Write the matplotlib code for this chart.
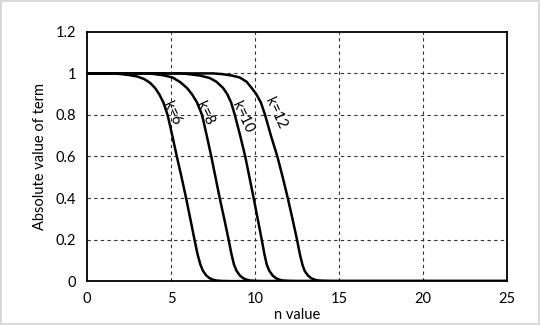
import matplotlib
matplotlib.use("Agg")
import matplotlib.pyplot as plt

plt.rcParams['font.family'] = ['Lato', 'DejaVu Sans']

# points (n, |term|)
n_k6 = [0, 1.5, 2.0, 2.5, 3.0, 3.4, 3.75, 4.05, 4.3, 4.55, 4.8, 5.08, 5.35, 5.63, 5.9, 6.15, 6.4, 6.58, 6.75, 6.9, 7.1, 7.3, 7.5, 7.7, 8.0, 8.5, 25]
y_k6 = [1, 1.0, 0.997, 0.992, 0.985, 0.973, 0.955, 0.93, 0.9, 0.86, 0.8, 0.7, 0.6, 0.5, 0.4, 0.3, 0.2, 0.13, 0.08, 0.05, 0.027, 0.014, 0.007, 0.003, 0.001, 0, 0]

n_k8 = [0, 3.5, 4.0, 4.6, 5.1, 5.55, 5.95, 6.25, 6.55, 6.85, 7.13, 7.4, 7.65, 7.9, 8.17, 8.43, 8.6, 8.75, 8.9, 9.1, 9.3, 9.5, 9.7, 10.0, 10.5, 25]
y_k8 = [1, 1.0, 0.997, 0.99, 0.98, 0.958, 0.93, 0.9, 0.86, 0.8, 0.7, 0.6, 0.5, 0.4, 0.3, 0.2, 0.13, 0.08, 0.05, 0.027, 0.014, 0.007, 0.003, 0.001, 0, 0]

n_k10 = [0, 5.5, 6.0, 6.7, 7.3, 7.7, 8.1, 8.35, 8.58, 8.8, 9.12, 9.42, 9.67, 9.92, 10.16, 10.4, 10.56, 10.7, 10.85, 11.05, 11.25, 11.45, 11.65, 12.0, 12.5, 25]
y_k10 = [1, 1.0, 0.997, 0.99, 0.978, 0.96, 0.93, 0.9, 0.86, 0.8, 0.7, 0.6, 0.5, 0.4, 0.3, 0.2, 0.13, 0.08, 0.05, 0.027, 0.014, 0.007, 0.003, 0.001, 0, 0]

n_k12 = [0, 7.5, 8.0, 8.6, 9.1, 9.5, 9.8, 10.08, 10.35, 10.6, 10.95, 11.33, 11.65, 11.95, 12.23, 12.5, 12.67, 12.82, 12.95, 13.15, 13.35, 13.55, 13.75, 14.1, 14.6, 25]
y_k12 = [1, 1.0, 0.997, 0.99, 0.98, 0.96, 0.93, 0.9, 0.86, 0.8, 0.7, 0.6, 0.5, 0.4, 0.3, 0.2, 0.13, 0.08, 0.05, 0.027, 0.014, 0.007, 0.003, 0.001, 0, 0]

labels = ['k=6', 'k=8', 'k=10', 'k=12']
label_n = [5.06, 7.03, 9.26, 11.25]
label_y = [0.81, 0.807, 0.79, 0.81]

x_ticks = [0, 5, 10, 15, 20, 25]
y_ticks = [0, 0.2, 0.4, 0.6, 0.8, 1, 1.2]
y_tick_labels = ['0', '0.2', '0.4', '0.6', '0.8', '1', '1.2']


def main():
    fig = plt.figure(figsize=(5.4, 3.25), dpi=100)
    fig.patch.set_edgecolor('#d9d9d9')
    fig.patch.set_linewidth(1.5)
    ax = fig.add_axes([0.161, 0.135, 0.778, 0.767])

    for xs, ys in [(n_k6, y_k6), (n_k8, y_k8), (n_k10, y_k10), (n_k12, y_k12)]:
        ax.plot(xs, ys, color='black', linewidth=1.8, solid_joinstyle='round', zorder=3)

    for lab, lx, ly in zip(labels, label_n, label_y):
        ax.text(lx, ly, lab, rotation=-65, ha='center', va='center', fontsize=10.5, zorder=4)

    ax.set_xlim(0, 25)
    ax.set_ylim(0, 1.2)
    ax.set_xticks(x_ticks)
    ax.set_yticks(y_ticks)
    ax.set_yticklabels(y_tick_labels)
    ax.tick_params(length=0, labelsize=10.5, pad=8)

    for v in x_ticks[1:-1]:
        ax.axvline(v, color='#333333', linestyle=(0, (3, 3)), linewidth=0.8, zorder=1)
    for v in y_ticks[1:-1]:
        ax.axhline(v, color='#333333', linestyle=(0, (3, 3)), linewidth=0.8, zorder=1)

    for s in ax.spines.values():
        s.set_color('black')
        s.set_linewidth(1.3)

    ax.set_xlabel('n value', fontsize=10.5, labelpad=1)
    ax.set_ylabel('Absolute value of term', fontsize=10.5, labelpad=6)

    fig.savefig('out.png', dpi=100)


if __name__ == "__main__":
    main()
